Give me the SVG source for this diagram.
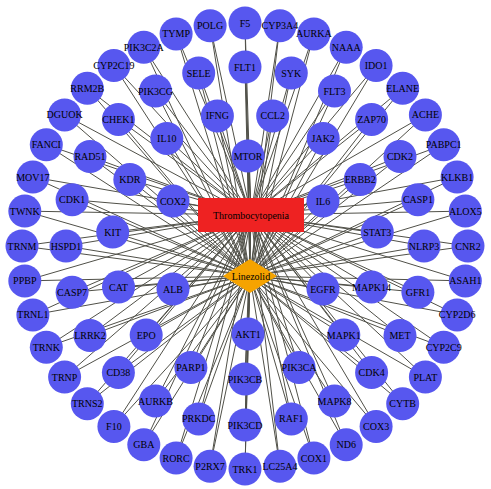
<svg xmlns="http://www.w3.org/2000/svg" width="491" height="489" viewBox="0 0 491 489">
<style>
.e{stroke:#505048;stroke-width:1;fill:none}
.g circle{fill:#5757EF}
text{font-family:"Liberation Serif","Times New Roman",serif;font-size:10px;fill:#000;text-anchor:middle}
</style>
<rect width="491" height="489" fill="#fff"/>
<g id="edges">
<line class="e" x1="245" y1="23" x2="251" y2="215"/><line class="e" x1="245" y1="23" x2="250" y2="276"/>
<line class="e" x1="279.9" y1="25.8" x2="251" y2="215"/><line class="e" x1="279.9" y1="25.8" x2="250" y2="276"/>
<line class="e" x1="313.9" y1="33.9" x2="251" y2="215"/><line class="e" x1="313.9" y1="33.9" x2="250" y2="276"/>
<line class="e" x1="346.2" y1="47.3" x2="251" y2="215"/><line class="e" x1="346.2" y1="47.3" x2="250" y2="276"/>
<line class="e" x1="376.1" y1="65.6" x2="251" y2="215"/><line class="e" x1="376.1" y1="65.6" x2="250" y2="276"/>
<line class="e" x1="402.7" y1="88.3" x2="251" y2="215"/><line class="e" x1="402.7" y1="88.3" x2="250" y2="276"/>
<line class="e" x1="425.4" y1="114.9" x2="251" y2="215"/><line class="e" x1="425.4" y1="114.9" x2="250" y2="276"/>
<line class="e" x1="443.7" y1="144.8" x2="251" y2="215"/><line class="e" x1="443.7" y1="144.8" x2="250" y2="276"/>
<line class="e" x1="457.1" y1="177.1" x2="251" y2="215"/><line class="e" x1="457.1" y1="177.1" x2="250" y2="276"/>
<line class="e" x1="465.3" y1="211.1" x2="251" y2="215"/><line class="e" x1="465.3" y1="211.1" x2="250" y2="276"/>
<line class="e" x1="468" y1="246" x2="251" y2="215"/><line class="e" x1="468" y1="246" x2="250" y2="276"/>
<line class="e" x1="465.3" y1="280.9" x2="251" y2="215"/><line class="e" x1="465.3" y1="280.9" x2="250" y2="276"/>
<line class="e" x1="457.1" y1="314.9" x2="251" y2="215"/><line class="e" x1="457.1" y1="314.9" x2="250" y2="276"/>
<line class="e" x1="443.7" y1="347.2" x2="251" y2="215"/><line class="e" x1="443.7" y1="347.2" x2="250" y2="276"/>
<line class="e" x1="425.4" y1="377.1" x2="251" y2="215"/><line class="e" x1="425.4" y1="377.1" x2="250" y2="276"/>
<line class="e" x1="402.7" y1="403.7" x2="251" y2="215"/><line class="e" x1="402.7" y1="403.7" x2="250" y2="276"/>
<line class="e" x1="376.1" y1="426.4" x2="251" y2="215"/><line class="e" x1="376.1" y1="426.4" x2="250" y2="276"/>
<line class="e" x1="346.2" y1="444.7" x2="251" y2="215"/><line class="e" x1="346.2" y1="444.7" x2="250" y2="276"/>
<line class="e" x1="313.9" y1="458.1" x2="251" y2="215"/><line class="e" x1="313.9" y1="458.1" x2="250" y2="276"/>
<line class="e" x1="279.9" y1="466.3" x2="251" y2="215"/><line class="e" x1="279.9" y1="466.3" x2="250" y2="276"/>
<line class="e" x1="245" y1="469" x2="251" y2="215"/><line class="e" x1="245" y1="469" x2="250" y2="276"/>
<line class="e" x1="210.1" y1="466.3" x2="251" y2="215"/><line class="e" x1="210.1" y1="466.3" x2="250" y2="276"/>
<line class="e" x1="176.1" y1="458.1" x2="251" y2="215"/><line class="e" x1="176.1" y1="458.1" x2="250" y2="276"/>
<line class="e" x1="143.8" y1="444.7" x2="251" y2="215"/><line class="e" x1="143.8" y1="444.7" x2="250" y2="276"/>
<line class="e" x1="113.9" y1="426.4" x2="251" y2="215"/><line class="e" x1="113.9" y1="426.4" x2="250" y2="276"/>
<line class="e" x1="87.3" y1="403.7" x2="251" y2="215"/><line class="e" x1="87.3" y1="403.7" x2="250" y2="276"/>
<line class="e" x1="64.6" y1="377.1" x2="251" y2="215"/><line class="e" x1="64.6" y1="377.1" x2="250" y2="276"/>
<line class="e" x1="46.3" y1="347.2" x2="251" y2="215"/><line class="e" x1="46.3" y1="347.2" x2="250" y2="276"/>
<line class="e" x1="32.9" y1="314.9" x2="251" y2="215"/><line class="e" x1="32.9" y1="314.9" x2="250" y2="276"/>
<line class="e" x1="24.8" y1="280.9" x2="251" y2="215"/><line class="e" x1="24.8" y1="280.9" x2="250" y2="276"/>
<line class="e" x1="22" y1="246" x2="251" y2="215"/><line class="e" x1="22" y1="246" x2="250" y2="276"/>
<line class="e" x1="24.8" y1="211.1" x2="251" y2="215"/><line class="e" x1="24.8" y1="211.1" x2="250" y2="276"/>
<line class="e" x1="32.9" y1="177.1" x2="251" y2="215"/><line class="e" x1="32.9" y1="177.1" x2="250" y2="276"/>
<line class="e" x1="46.3" y1="144.8" x2="251" y2="215"/><line class="e" x1="46.3" y1="144.8" x2="250" y2="276"/>
<line class="e" x1="64.6" y1="114.9" x2="251" y2="215"/><line class="e" x1="64.6" y1="114.9" x2="250" y2="276"/>
<line class="e" x1="87.3" y1="88.3" x2="251" y2="215"/><line class="e" x1="87.3" y1="88.3" x2="250" y2="276"/>
<line class="e" x1="113.9" y1="65.6" x2="251" y2="215"/><line class="e" x1="113.9" y1="65.6" x2="250" y2="276"/>
<line class="e" x1="143.8" y1="47.3" x2="251" y2="215"/><line class="e" x1="143.8" y1="47.3" x2="250" y2="276"/>
<line class="e" x1="176.1" y1="33.9" x2="251" y2="215"/><line class="e" x1="176.1" y1="33.9" x2="250" y2="276"/>
<line class="e" x1="210.1" y1="25.8" x2="251" y2="215"/><line class="e" x1="210.1" y1="25.8" x2="250" y2="276"/>
<line class="e" x1="245" y1="67" x2="251" y2="215"/><line class="e" x1="245" y1="67" x2="250" y2="276"/>
<line class="e" x1="291.3" y1="73.1" x2="251" y2="215"/><line class="e" x1="291.3" y1="73.1" x2="250" y2="276"/>
<line class="e" x1="334.5" y1="91" x2="251" y2="215"/><line class="e" x1="334.5" y1="91" x2="250" y2="276"/>
<line class="e" x1="371.6" y1="119.4" x2="251" y2="215"/><line class="e" x1="371.6" y1="119.4" x2="250" y2="276"/>
<line class="e" x1="400" y1="156.5" x2="251" y2="215"/><line class="e" x1="400" y1="156.5" x2="250" y2="276"/>
<line class="e" x1="417.9" y1="199.7" x2="251" y2="215"/><line class="e" x1="417.9" y1="199.7" x2="250" y2="276"/>
<line class="e" x1="424" y1="246" x2="251" y2="215"/><line class="e" x1="424" y1="246" x2="250" y2="276"/>
<line class="e" x1="417.9" y1="292.3" x2="251" y2="215"/><line class="e" x1="417.9" y1="292.3" x2="250" y2="276"/>
<line class="e" x1="400" y1="335.5" x2="251" y2="215"/><line class="e" x1="400" y1="335.5" x2="250" y2="276"/>
<line class="e" x1="371.6" y1="372.6" x2="251" y2="215"/><line class="e" x1="371.6" y1="372.6" x2="250" y2="276"/>
<line class="e" x1="334.5" y1="401" x2="251" y2="215"/><line class="e" x1="334.5" y1="401" x2="250" y2="276"/>
<line class="e" x1="291.3" y1="418.9" x2="251" y2="215"/><line class="e" x1="291.3" y1="418.9" x2="250" y2="276"/>
<line class="e" x1="245" y1="425" x2="251" y2="215"/><line class="e" x1="245" y1="425" x2="250" y2="276"/>
<line class="e" x1="198.7" y1="418.9" x2="251" y2="215"/><line class="e" x1="198.7" y1="418.9" x2="250" y2="276"/>
<line class="e" x1="155.5" y1="401" x2="251" y2="215"/><line class="e" x1="155.5" y1="401" x2="250" y2="276"/>
<line class="e" x1="118.4" y1="372.6" x2="251" y2="215"/><line class="e" x1="118.4" y1="372.6" x2="250" y2="276"/>
<line class="e" x1="90" y1="335.5" x2="251" y2="215"/><line class="e" x1="90" y1="335.5" x2="250" y2="276"/>
<line class="e" x1="72.1" y1="292.3" x2="251" y2="215"/><line class="e" x1="72.1" y1="292.3" x2="250" y2="276"/>
<line class="e" x1="66" y1="246" x2="251" y2="215"/><line class="e" x1="66" y1="246" x2="250" y2="276"/>
<line class="e" x1="72.1" y1="199.7" x2="251" y2="215"/><line class="e" x1="72.1" y1="199.7" x2="250" y2="276"/>
<line class="e" x1="90" y1="156.5" x2="251" y2="215"/><line class="e" x1="90" y1="156.5" x2="250" y2="276"/>
<line class="e" x1="118.4" y1="119.4" x2="251" y2="215"/><line class="e" x1="118.4" y1="119.4" x2="250" y2="276"/>
<line class="e" x1="155.5" y1="91" x2="251" y2="215"/><line class="e" x1="155.5" y1="91" x2="250" y2="276"/>
<line class="e" x1="198.7" y1="73.1" x2="251" y2="215"/><line class="e" x1="198.7" y1="73.1" x2="250" y2="276"/>
<line class="e" x1="217.4" y1="115.9" x2="251" y2="215"/><line class="e" x1="217.4" y1="115.9" x2="250" y2="276"/>
<line class="e" x1="272.7" y1="115.9" x2="251" y2="215"/><line class="e" x1="272.7" y1="115.9" x2="250" y2="276"/>
<line class="e" x1="323.2" y1="138.4" x2="251" y2="215"/><line class="e" x1="323.2" y1="138.4" x2="250" y2="276"/>
<line class="e" x1="360.2" y1="179.5" x2="251" y2="215"/><line class="e" x1="360.2" y1="179.5" x2="250" y2="276"/>
<line class="e" x1="377.3" y1="232.1" x2="251" y2="215"/><line class="e" x1="377.3" y1="232.1" x2="250" y2="276"/>
<line class="e" x1="371.5" y1="287.1" x2="251" y2="215"/><line class="e" x1="371.5" y1="287.1" x2="250" y2="276"/>
<line class="e" x1="343.8" y1="335" x2="251" y2="215"/><line class="e" x1="343.8" y1="335" x2="250" y2="276"/>
<line class="e" x1="299.1" y1="367.5" x2="251" y2="215"/><line class="e" x1="299.1" y1="367.5" x2="250" y2="276"/>
<line class="e" x1="245" y1="379" x2="251" y2="215"/><line class="e" x1="245" y1="379" x2="250" y2="276"/>
<line class="e" x1="190.9" y1="367.5" x2="251" y2="215"/><line class="e" x1="190.9" y1="367.5" x2="250" y2="276"/>
<line class="e" x1="146.2" y1="335" x2="251" y2="215"/><line class="e" x1="146.2" y1="335" x2="250" y2="276"/>
<line class="e" x1="118.5" y1="287.1" x2="251" y2="215"/><line class="e" x1="118.5" y1="287.1" x2="250" y2="276"/>
<line class="e" x1="112.7" y1="232.1" x2="251" y2="215"/><line class="e" x1="112.7" y1="232.1" x2="250" y2="276"/>
<line class="e" x1="129.8" y1="179.5" x2="251" y2="215"/><line class="e" x1="129.8" y1="179.5" x2="250" y2="276"/>
<line class="e" x1="166.8" y1="138.4" x2="251" y2="215"/><line class="e" x1="166.8" y1="138.4" x2="250" y2="276"/>
<line class="e" x1="248" y1="156" x2="251" y2="215"/><line class="e" x1="248" y1="156" x2="250" y2="276"/>
<line class="e" x1="323" y1="201" x2="251" y2="215"/><line class="e" x1="323" y1="201" x2="250" y2="276"/>
<line class="e" x1="323" y1="289" x2="251" y2="215"/><line class="e" x1="323" y1="289" x2="250" y2="276"/>
<line class="e" x1="248" y1="334" x2="251" y2="215"/><line class="e" x1="248" y1="334" x2="250" y2="276"/>
<line class="e" x1="173" y1="289" x2="251" y2="215"/><line class="e" x1="173" y1="289" x2="250" y2="276"/>
<line class="e" x1="173" y1="201" x2="251" y2="215"/><line class="e" x1="173" y1="201" x2="250" y2="276"/>
</g>
<g id="n-Thrombocytopenia"><rect x="198" y="198" width="106" height="34" fill="#EE2222"/><text x="251" y="218.5">Thrombocytopenia</text></g>
<g id="n-Linezolid"><polygon points="223,276 250,259 277,276 250,293" fill="#F5A300"/><text x="251" y="279.5">Linezolid</text></g>
<g class="g" id="n-F5"><circle cx="245" cy="23" r="16.5"/><text x="245" y="26.5">F5</text></g>
<g class="g" id="n-CYP3A4"><circle cx="279.9" cy="25.8" r="16.5"/><text x="279.9" y="29.3">CYP3A4</text></g>
<g class="g" id="n-AURKA"><circle cx="313.9" cy="33.9" r="16.5"/><text x="313.9" y="37.4">AURKA</text></g>
<g class="g" id="n-NAAA"><circle cx="346.2" cy="47.3" r="16.5"/><text x="346.2" y="50.8">NAAA</text></g>
<g class="g" id="n-IDO1"><circle cx="376.1" cy="65.6" r="16.5"/><text x="376.1" y="69.1">IDO1</text></g>
<g class="g" id="n-ELANE"><circle cx="402.7" cy="88.3" r="16.5"/><text x="402.7" y="91.8">ELANE</text></g>
<g class="g" id="n-ACHE"><circle cx="425.4" cy="114.9" r="16.5"/><text x="425.4" y="118.4">ACHE</text></g>
<g class="g" id="n-PABPC1"><circle cx="443.7" cy="144.8" r="16.5"/><text x="443.7" y="148.3">PABPC1</text></g>
<g class="g" id="n-KLKB1"><circle cx="457.1" cy="177.1" r="16.5"/><text x="457.1" y="180.6">KLKB1</text></g>
<g class="g" id="n-ALOX5"><circle cx="465.3" cy="211.1" r="16.5"/><text x="465.3" y="214.6">ALOX5</text></g>
<g class="g" id="n-CNR2"><circle cx="468" cy="246" r="16.5"/><text x="468" y="249.5">CNR2</text></g>
<g class="g" id="n-ASAH1"><circle cx="465.3" cy="280.9" r="16.5"/><text x="465.3" y="284.4">ASAH1</text></g>
<g class="g" id="n-CYP2D6"><circle cx="457.1" cy="314.9" r="16.5"/><text x="457.1" y="318.4">CYP2D6</text></g>
<g class="g" id="n-CYP2C9"><circle cx="443.7" cy="347.2" r="16.5"/><text x="443.7" y="350.7">CYP2C9</text></g>
<g class="g" id="n-PLAT"><circle cx="425.4" cy="377.1" r="16.5"/><text x="425.4" y="380.6">PLAT</text></g>
<g class="g" id="n-CYTB"><circle cx="402.7" cy="403.7" r="16.5"/><text x="402.7" y="407.2">CYTB</text></g>
<g class="g" id="n-COX3"><circle cx="376.1" cy="426.4" r="16.5"/><text x="376.1" y="429.9">COX3</text></g>
<g class="g" id="n-ND6"><circle cx="346.2" cy="444.7" r="16.5"/><text x="346.2" y="448.2">ND6</text></g>
<g class="g" id="n-COX1"><circle cx="313.9" cy="458.1" r="16.5"/><text x="313.9" y="461.6">COX1</text></g>
<g class="g" id="n-LC25A4"><circle cx="279.9" cy="466.3" r="16.5"/><text x="279.9" y="469.8">LC25A4</text></g>
<g class="g" id="n-TRK1"><circle cx="245" cy="469" r="16.5"/><text x="245" y="472.5">TRK1</text></g>
<g class="g" id="n-P2RX7"><circle cx="210.1" cy="466.3" r="16.5"/><text x="210.1" y="469.8">P2RX7</text></g>
<g class="g" id="n-RORC"><circle cx="176.1" cy="458.1" r="16.5"/><text x="176.1" y="461.6">RORC</text></g>
<g class="g" id="n-GBA"><circle cx="143.8" cy="444.7" r="16.5"/><text x="143.8" y="448.2">GBA</text></g>
<g class="g" id="n-F10"><circle cx="113.9" cy="426.4" r="16.5"/><text x="113.9" y="429.9">F10</text></g>
<g class="g" id="n-TRNS2"><circle cx="87.3" cy="403.7" r="16.5"/><text x="87.3" y="407.2">TRNS2</text></g>
<g class="g" id="n-TRNP"><circle cx="64.6" cy="377.1" r="16.5"/><text x="64.6" y="380.6">TRNP</text></g>
<g class="g" id="n-TRNK"><circle cx="46.3" cy="347.2" r="16.5"/><text x="46.3" y="350.7">TRNK</text></g>
<g class="g" id="n-TRNL1"><circle cx="32.9" cy="314.9" r="16.5"/><text x="32.9" y="318.4">TRNL1</text></g>
<g class="g" id="n-PPBP"><circle cx="24.8" cy="280.9" r="16.5"/><text x="24.8" y="284.4">PPBP</text></g>
<g class="g" id="n-TRNM"><circle cx="22" cy="246" r="16.5"/><text x="22" y="249.5">TRNM</text></g>
<g class="g" id="n-TWNK"><circle cx="24.8" cy="211.1" r="16.5"/><text x="24.8" y="214.6">TWNK</text></g>
<g class="g" id="n-MOV17"><circle cx="32.9" cy="177.1" r="16.5"/><text x="32.9" y="180.6">MOV17</text></g>
<g class="g" id="n-FANCI"><circle cx="46.3" cy="144.8" r="16.5"/><text x="46.3" y="148.3">FANCI</text></g>
<g class="g" id="n-DGUOK"><circle cx="64.6" cy="114.9" r="16.5"/><text x="64.6" y="118.4">DGUOK</text></g>
<g class="g" id="n-RRM2B"><circle cx="87.3" cy="88.3" r="16.5"/><text x="87.3" y="91.8">RRM2B</text></g>
<g class="g" id="n-CYP2C19"><circle cx="113.9" cy="65.6" r="16.5"/><text x="113.9" y="69.1">CYP2C19</text></g>
<g class="g" id="n-PIK3C2A"><circle cx="143.8" cy="47.3" r="16.5"/><text x="143.8" y="50.8">PIK3C2A</text></g>
<g class="g" id="n-TYMP"><circle cx="176.1" cy="33.9" r="16.5"/><text x="176.1" y="37.4">TYMP</text></g>
<g class="g" id="n-POLG"><circle cx="210.1" cy="25.8" r="16.5"/><text x="210.1" y="29.3">POLG</text></g>
<g class="g" id="n-FLT1"><circle cx="245" cy="67" r="16.5"/><text x="245" y="70.5">FLT1</text></g>
<g class="g" id="n-SYK"><circle cx="291.3" cy="73.1" r="16.5"/><text x="291.3" y="76.6">SYK</text></g>
<g class="g" id="n-FLT3"><circle cx="334.5" cy="91" r="16.5"/><text x="334.5" y="94.5">FLT3</text></g>
<g class="g" id="n-ZAP70"><circle cx="371.6" cy="119.4" r="16.5"/><text x="371.6" y="122.9">ZAP70</text></g>
<g class="g" id="n-CDK2"><circle cx="400" cy="156.5" r="16.5"/><text x="400" y="160">CDK2</text></g>
<g class="g" id="n-CASP1"><circle cx="417.9" cy="199.7" r="16.5"/><text x="417.9" y="203.2">CASP1</text></g>
<g class="g" id="n-NLRP3"><circle cx="424" cy="246" r="16.5"/><text x="424" y="249.5">NLRP3</text></g>
<g class="g" id="n-GFR1"><circle cx="417.9" cy="292.3" r="16.5"/><text x="417.9" y="295.8">GFR1</text></g>
<g class="g" id="n-MET"><circle cx="400" cy="335.5" r="16.5"/><text x="400" y="339">MET</text></g>
<g class="g" id="n-CDK4"><circle cx="371.6" cy="372.6" r="16.5"/><text x="371.6" y="376.1">CDK4</text></g>
<g class="g" id="n-MAPK8"><circle cx="334.5" cy="401" r="16.5"/><text x="334.5" y="404.5">MAPK8</text></g>
<g class="g" id="n-RAF1"><circle cx="291.3" cy="418.9" r="16.5"/><text x="291.3" y="422.4">RAF1</text></g>
<g class="g" id="n-PIK3CD"><circle cx="245" cy="425" r="16.5"/><text x="245" y="428.5">PIK3CD</text></g>
<g class="g" id="n-PRKDC"><circle cx="198.7" cy="418.9" r="16.5"/><text x="198.7" y="422.4">PRKDC</text></g>
<g class="g" id="n-AURKB"><circle cx="155.5" cy="401" r="16.5"/><text x="155.5" y="404.5">AURKB</text></g>
<g class="g" id="n-CD38"><circle cx="118.4" cy="372.6" r="16.5"/><text x="118.4" y="376.1">CD38</text></g>
<g class="g" id="n-LRRK2"><circle cx="90" cy="335.5" r="16.5"/><text x="90" y="339">LRRK2</text></g>
<g class="g" id="n-CASP7"><circle cx="72.1" cy="292.3" r="16.5"/><text x="72.1" y="295.8">CASP7</text></g>
<g class="g" id="n-HSPD1"><circle cx="66" cy="246" r="16.5"/><text x="66" y="249.5">HSPD1</text></g>
<g class="g" id="n-CDK1"><circle cx="72.1" cy="199.7" r="16.5"/><text x="72.1" y="203.2">CDK1</text></g>
<g class="g" id="n-RAD51"><circle cx="90" cy="156.5" r="16.5"/><text x="90" y="160">RAD51</text></g>
<g class="g" id="n-CHEK1"><circle cx="118.4" cy="119.4" r="16.5"/><text x="118.4" y="122.9">CHEK1</text></g>
<g class="g" id="n-PIK3CG"><circle cx="155.5" cy="91" r="16.5"/><text x="155.5" y="94.5">PIK3CG</text></g>
<g class="g" id="n-SELE"><circle cx="198.7" cy="73.1" r="16.5"/><text x="198.7" y="76.6">SELE</text></g>
<g class="g" id="n-IFNG"><circle cx="217.4" cy="115.9" r="16.5"/><text x="217.4" y="119.4">IFNG</text></g>
<g class="g" id="n-CCL2"><circle cx="272.7" cy="115.9" r="16.5"/><text x="272.7" y="119.4">CCL2</text></g>
<g class="g" id="n-JAK2"><circle cx="323.2" cy="138.4" r="16.5"/><text x="323.2" y="141.9">JAK2</text></g>
<g class="g" id="n-ERBB2"><circle cx="360.2" cy="179.5" r="16.5"/><text x="360.2" y="183">ERBB2</text></g>
<g class="g" id="n-STAT3"><circle cx="377.3" cy="232.1" r="16.5"/><text x="377.3" y="235.6">STAT3</text></g>
<g class="g" id="n-MAPK14"><circle cx="371.5" cy="287.1" r="16.5"/><text x="371.5" y="290.6">MAPK14</text></g>
<g class="g" id="n-MAPK1"><circle cx="343.8" cy="335" r="16.5"/><text x="343.8" y="338.5">MAPK1</text></g>
<g class="g" id="n-PIK3CA"><circle cx="299.1" cy="367.5" r="16.5"/><text x="299.1" y="371">PIK3CA</text></g>
<g class="g" id="n-PIK3CB"><circle cx="245" cy="379" r="16.5"/><text x="245" y="382.5">PIK3CB</text></g>
<g class="g" id="n-PARP1"><circle cx="190.9" cy="367.5" r="16.5"/><text x="190.9" y="371">PARP1</text></g>
<g class="g" id="n-EPO"><circle cx="146.2" cy="335" r="16.5"/><text x="146.2" y="338.5">EPO</text></g>
<g class="g" id="n-CAT"><circle cx="118.5" cy="287.1" r="16.5"/><text x="118.5" y="290.6">CAT</text></g>
<g class="g" id="n-KIT"><circle cx="112.7" cy="232.1" r="16.5"/><text x="112.7" y="235.6">KIT</text></g>
<g class="g" id="n-KDR"><circle cx="129.8" cy="179.5" r="16.5"/><text x="129.8" y="183">KDR</text></g>
<g class="g" id="n-IL10"><circle cx="166.8" cy="138.4" r="16.5"/><text x="166.8" y="141.9">IL10</text></g>
<g class="g" id="n-MTOR"><circle cx="248" cy="156" r="16.5"/><text x="248" y="159.5">MTOR</text></g>
<g class="g" id="n-IL6"><circle cx="323" cy="201" r="16.5"/><text x="323" y="204.5">IL6</text></g>
<g class="g" id="n-EGFR"><circle cx="323" cy="289" r="16.5"/><text x="323" y="292.5">EGFR</text></g>
<g class="g" id="n-AKT1"><circle cx="248" cy="334" r="16.5"/><text x="248" y="337.5">AKT1</text></g>
<g class="g" id="n-ALB"><circle cx="173" cy="289" r="16.5"/><text x="173" y="292.5">ALB</text></g>
<g class="g" id="n-COX2"><circle cx="173" cy="201" r="16.5"/><text x="173" y="204.5">COX2</text></g>
</svg>
